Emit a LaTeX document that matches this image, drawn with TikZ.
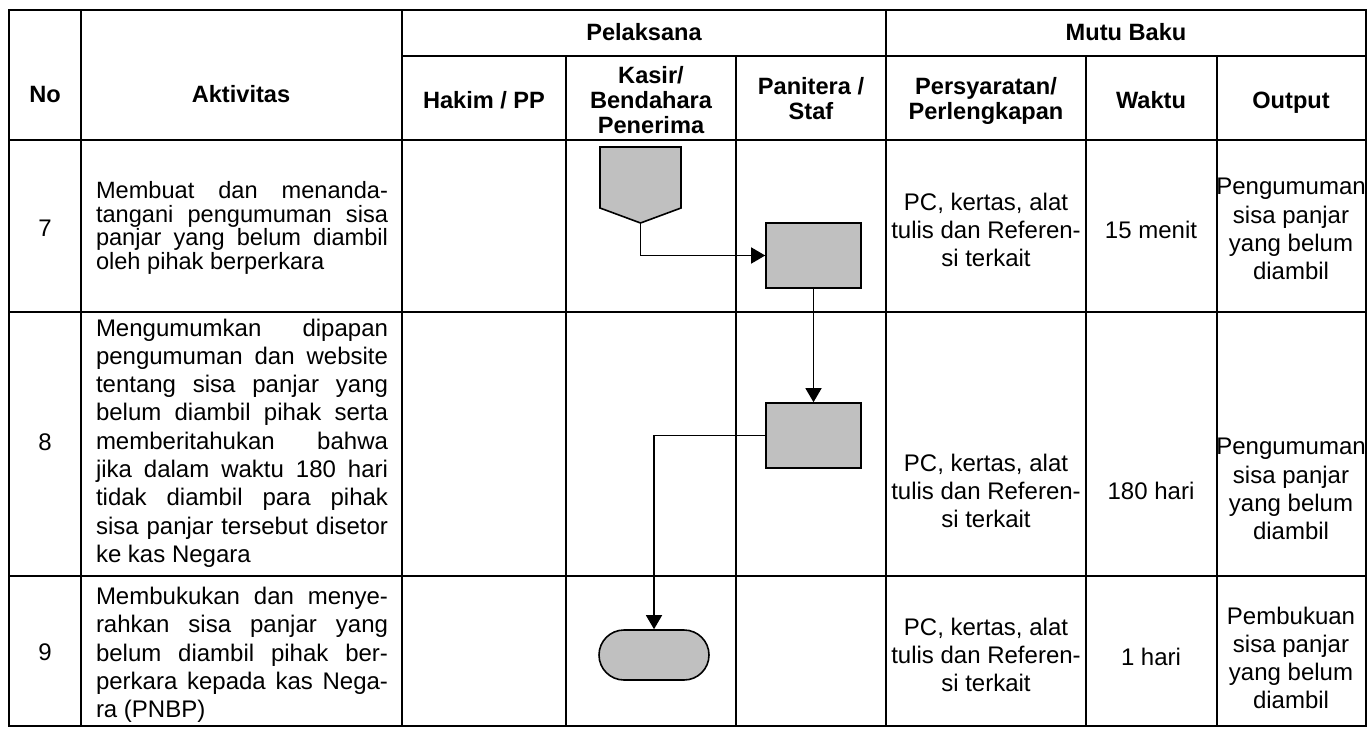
\documentclass[tikz,border=0pt]{standalone}
\usepackage{fontspec}
\setmainfont{Liberation Sans}
\usetikzlibrary{arrows.meta}
\definecolor{abu}{HTML}{C0C0C0}
\hbadness=10000

\begin{document}
\begin{tikzpicture}[x=0.5pt, y=-0.5pt, font=\fontsize{12}{14.1}\selectfont,
  garis/.style={line width=1.3pt},
  judul/.style={font=\bfseries\fontsize{11.8}{12.5}\selectfont, align=center, inner sep=0pt, text depth=0pt},
  isi/.style={align=center, inner sep=0pt},
  uraian/.style={text width=146pt, align=justify, inner sep=0pt},
  proses/.style={draw, line width=0.8pt, fill=abu, minimum width=47.5pt, minimum height=32.5pt, inner sep=0pt},
  akhir/.style={draw, line width=0.8pt, fill=abu, minimum width=55pt, minimum height=25pt, rounded corners=12.5pt, inner sep=0pt},
  alur/.style={line width=0.7pt, -{Triangle[length=7pt, width=8pt]}}]

\useasboundingbox (0,0) rectangle (1368,728);

% table frame
\draw[garis] (9,10) rectangle (1366,726);
\draw[garis] (402,56) -- (1366,56);
\foreach \y in {140,312,576} \draw[garis] (9,\y) -- (1366,\y);
\foreach \x in {81,402,886} \draw[garis] (\x,10) -- (\x,726);
\foreach \x in {566,736,1086,1217} \draw[garis] (\x,56) -- (\x,726);

% header
\node[judul] (hNo) at (45,94) {No};
\node[judul] (hAktivitas) at (241,94) {Aktivitas};
\node[judul] (hPelaksana) at (644,32) {Pelaksana};
\node[judul] (hMutu) at (1126,32) {Mutu Baku};
\node[judul] (hHakim) at (484,100) {Hakim / PP};
\node[judul] (hKasir) at (651,100) {Kasir/\\Bendahara\\Penerima};
\node[judul] (hPanitera) at (811,98) {Panitera /\\Staf};
\node[judul] (hSyarat) at (986,98) {Persyaratan/\\Perlengkapan};
\node[judul] (hWaktu) at (1151,100) {Waktu};
\node[judul] (hOutput) at (1291,100) {Output};

% row 7
\node (no7) at (45,228) {7};
\node[uraian, font=\fontsize{11.8}{11.8}\selectfont] (akt7) at (242,228)
  {Membuat dan menanda-\linebreak tangani pengumuman sisa\linebreak panjar yang belum diambil\linebreak oleh pihak berperkara};
\node[isi] (syarat7) at (986,230) {PC, kertas, alat\\tulis dan Referen-\\si terkait};
\node[isi] (waktu7) at (1151,230) {15 menit};
\node[isi] (out7) at (1291,229) {Pengumuman\\sisa panjar\\yang belum\\diambil};

% row 8
\node (no8) at (45,442) {8};
\node[uraian, font=\fontsize{12}{14.15}\selectfont] (akt8) at (242,443)
  {Mengumumkan dipapan\linebreak pengumuman dan website\linebreak tentang sisa panjar yang\linebreak belum diambil pihak serta\linebreak memberitahukan bahwa\linebreak jika dalam waktu 180 hari\linebreak tidak diambil para pihak\linebreak sisa panjar tersebut disetor\linebreak ke kas Negara};
\node[isi] (syarat8) at (986,491) {PC, kertas, alat\\tulis dan Referen-\\si terkait};
\node[isi] (waktu8) at (1151,491) {180 hari};
\node[isi] (out8) at (1291,489) {Pengumuman\\sisa panjar\\yang belum\\diambil};

% row 9
\node (no9) at (45,652) {9};
\node[uraian, font=\fontsize{12}{14.15}\selectfont] (akt9) at (242,655)
  {Membukukan dan menye-\linebreak rahkan sisa panjar yang\linebreak belum diambil pihak ber-\linebreak perkara kepada kas Nega-\linebreak ra (PNBP)};
\node[isi] (syarat9) at (986,655) {PC, kertas, alat\\tulis dan Referen-\\si terkait};
\node[isi] (waktu9) at (1151,657) {1 hari};
\node[isi] (out9) at (1291,658) {Pembukuan\\sisa panjar\\yang belum\\diambil};

% flow symbols
\filldraw[line width=0.8pt, fill=abu] (600,147) -- (681,147) -- (681,208) -- (640.5,223) -- (600,208) -- cycle;
\coordinate (mulai) at (640.5,223);
\node[proses] (kerja1) at (813.5,255.5) {};
\node[proses] (kerja2) at (813.5,435.5) {};
\node[akhir] (selesai) at (654,655) {};

% connectors
\draw[alur] (mulai) |- (kerja1.west);
\draw[alur] (kerja1.south) -- (kerja2.north);
\draw[alur] (kerja2.west) -| (selesai.north);

\end{tikzpicture}
\end{document}
